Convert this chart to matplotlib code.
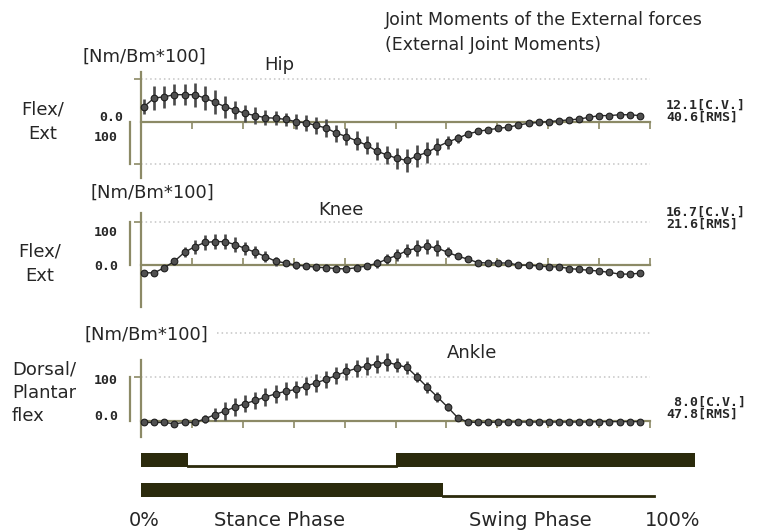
import numpy as np
import matplotlib
matplotlib.use("Agg")
import matplotlib.pyplot as plt

W, H = 760, 530

# gait cycle sample positions (% of cycle), 50 samples
pct = np.linspace(0.6, 98.0, 50)

hip = [35, 55, 58, 63, 63, 63, 55, 45, 35, 27, 19, 14, 9, 8, 5, 0, -3, -9, -15, -27,
       -35, -45, -55, -69, -78, -86, -91, -80, -72, -59, -48, -39, -29, -23, -19, -16,
       -13, -8, -4, -2, 0, 2, 4, 6, 10, 14, 14, 16, 16, 14]
hip_sd = [18, 28, 26, 25, 25, 28, 28, 28, 26, 22, 20, 20, 18, 16, 16, 18, 18, 20, 20, 20,
          20, 22, 22, 22, 22, 25, 26, 26, 24, 20, 15, 10, 6, 4, 3, 3, 3, 3, 3, 3,
          3, 3, 3, 3, 3, 4, 4, 6, 6, 5]

knee = [-18, -18, -6, 9, 30, 43, 53, 55, 55, 48, 39, 30, 20, 9, 5, 0, -2, -5, -6, -8,
        -9, -6, -2, 4, 14, 23, 34, 40, 44, 40, 30, 21, 14, 6, 5, 5, 5, 0, 0, -2,
        -4, -4, -8, -10, -12, -14, -17, -21, -21, -19]
knee_sd = [5, 5, 5, 8, 12, 16, 18, 18, 18, 18, 16, 14, 12, 10, 8, 8, 8, 8, 8, 8,
           8, 8, 8, 10, 12, 14, 16, 18, 18, 18, 12, 6, 3, 3, 3, 3, 3, 3, 3, 3,
           3, 3, 3, 3, 3, 3, 3, 3, 3, 3]

ankle = [-3, -3, -3, -6, -3, -3, 5, 15, 23, 32, 40, 47, 55, 62, 68, 72, 80, 87, 95, 104,
         113, 120, 125, 130, 134, 128, 122, 100, 77, 55, 32, 8, -2, -3, -3, -2, -2, -2, -2, -2,
         -2, -2, -2, -2, -2, -1, -1, -1, -1, -1]
ankle_sd = [4, 4, 4, 4, 4, 4, 10, 15, 20, 20, 20, 20, 20, 20, 20, 20, 20, 20, 20, 20,
            20, 20, 20, 20, 20, 16, 14, 12, 12, 12, 10, 6, 2, 2, 2, 2, 2, 2, 2, 2,
            2, 2, 2, 2, 2, 2, 2, 2, 2, 2]

hip_stats = ["12.1[C.V.]", "40.6[RMS]"]
knee_stats = ["16.7[C.V.]", "21.6[RMS]"]
ankle_stats = [" 8.0[C.V.]", "47.8[RMS]"]

# foot contact bars (% of cycle)
contra_contact = [(0, 9.2), (50.1, 58.7)]
contra_line = (9.2, 50.1)
stance = [(0, 59.3)]
swing_line = (59.3, 100.8)

OLIVE = "#8c8a66"
DARK = "#2b2a0c"
DOT = "#c4c4c4"
TXT = "#262626"

fig = plt.figure(figsize=(W / 100, H / 100), dpi=100)
fig.patch.set_facecolor("white")


def px_axes(left, top, right, bottom):
    return fig.add_axes([left / W, 1 - bottom / H, (right - left) / W, (bottom - top) / H])


def ftext(x, y, s, **kw):
    fig.text(x / W, 1 - y / H, s, **kw)


def setup(ax, ylim, ytks, tick_dir):
    ax.set_xlim(0, 100)
    ax.set_ylim(*ylim)
    ax.patch.set_alpha(0)
    for s in ["top", "right"]:
        ax.spines[s].set_visible(False)
    ax.spines["bottom"].set_position(("data", 0))
    for s in ["left", "bottom"]:
        ax.spines[s].set_color(OLIVE)
        ax.spines[s].set_linewidth(1.6)
    ax.set_xticks(range(10, 101, 10))
    ax.set_xticklabels([])
    ax.set_yticks(ytks)
    ax.set_yticklabels([])
    ax.tick_params(axis="x", direction=tick_dir, length=5, width=1.2, color=OLIVE)
    ax.tick_params(axis="y", direction="out", length=5, width=1.2, color=OLIVE)


def draw(ax, y, sd):
    ax.errorbar(pct, y, yerr=sd, fmt="-o", color="#2a2a2a", lw=1.0, ms=4.8,
                mfc="#505050", mec="#1e1e1e", mew=0.8, ecolor="#4a4a4a",
                elinewidth=1.9, capsize=0, zorder=3, clip_on=False)


dot_kw = dict(color=DOT, ls=(0, (1, 2)), lw=1.1, zorder=1)

# Hip
ax1 = px_axes(141, 72, 650, 178)
setup(ax1, (-132, 116), [100, -100], "out")
ax1.axhline(100, **dot_kw)
ax1.axhline(-100, **dot_kw)
ax1.plot([-2.2, -2.2], [0, -100], color=OLIVE, lw=1.6, clip_on=False)
draw(ax1, hip, hip_sd)

# Knee
ax2 = px_axes(141, 213, 650, 307)
setup(ax2, (-98, 122), [100], "in")
ax2.axhline(100, **dot_kw)
ax2.plot([-2.2, -2.2], [0, 100], color=OLIVE, lw=1.6, clip_on=False)
draw(ax2, knee, knee_sd)

# Ankle
ax3 = px_axes(141, 360, 650, 437)
setup(ax3, (-36, 139), [100], "out")
ax3.axhline(100, **dot_kw)
ax3.plot([15, 100], [200, 200], clip_on=False, **dot_kw)
ax3.plot([-2.2, -2.2], [0, 100], color=OLIVE, lw=1.6, clip_on=False)
draw(ax3, ankle, ankle_sd)

# contact bars
axb = px_axes(141, 445, 650, 505)
axb.set_xlim(0, 100)
axb.set_ylim(505, 445)
axb.axis("off")
axb.broken_barh(contra_contact, (453, 14), facecolor=DARK, clip_on=False)
axb.plot(contra_line, [466, 466], color=DARK, lw=2, clip_on=False)
axb.broken_barh(stance, (483, 14), facecolor=DARK, clip_on=False)
axb.plot(swing_line, [496, 496], color=DARK, lw=2, clip_on=False)

# texts
ftext(385, 20, "Joint Moments of the External forces", fontsize=12.5, color=TXT, va="center")
ftext(385, 45, "(External Joint Moments)", fontsize=12.5, color=TXT, va="center")

lab = dict(fontsize=13, color=TXT, va="center")
ftext(83, 57, "[Nm/Bm*100]", **lab)
ftext(90, 193, "[Nm/Bm*100]", **lab)
ftext(85, 335, "[Nm/Bm*100]", **lab)
ftext(279, 65, "Hip", ha="center", **lab)
ftext(341, 210, "Knee", ha="center", **lab)
ftext(472, 353, "Ankle", ha="center", **lab)
ftext(43, 110, "Flex/", ha="center", **lab)
ftext(43, 134, "Ext", ha="center", **lab)
ftext(40, 252, "Flex/", ha="center", **lab)
ftext(40, 276, "Ext", ha="center", **lab)
ftext(12, 370, "Dorsal/", **lab)
ftext(12, 393, "Plantar", **lab)
ftext(12, 416, "flex", **lab)

mono = dict(family="DejaVu Sans Mono", fontweight="bold", fontsize=9.5, color=TXT, va="center")
ftext(123, 117, "0.0", ha="right", **mono)
ftext(118, 138, "100", ha="right", **mono)
ftext(118, 233, "100", ha="right", **mono)
ftext(118, 267, "0.0", ha="right", **mono)
ftext(118, 381, "100", ha="right", **mono)
ftext(118, 417, "0.0", ha="right", **mono)

for y0, st in [(105, hip_stats), (212, knee_stats), (402, ankle_stats)]:
    ftext(666, y0, st[0], **mono)
    ftext(666, y0 + 12, st[1], **mono)

bot = dict(fontsize=14, color=TXT, va="center")
ftext(144, 520, "0%", ha="center", **bot)
ftext(280, 520, "Stance Phase", ha="center", **bot)
ftext(530, 520, "Swing Phase", ha="center", **bot)
ftext(673, 520, "100%", ha="center", **bot)

fig.savefig("out.png", dpi=100, facecolor="white")
